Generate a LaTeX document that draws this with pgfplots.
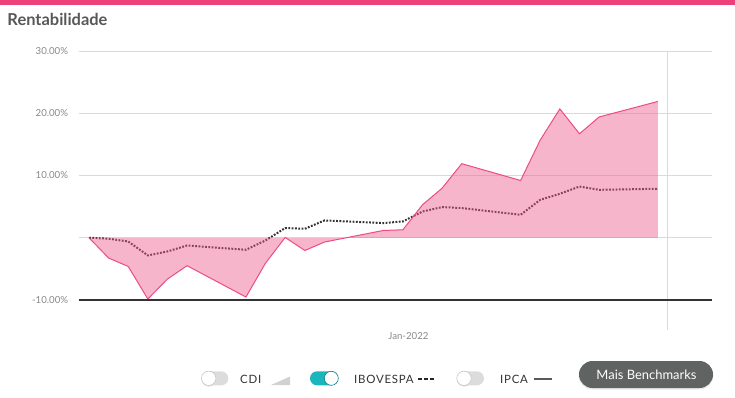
\documentclass[border=0pt]{standalone}
\usepackage{pgfplots}
\usepackage{pgfplotstable}
\pgfplotsset{compat=1.18}
\usepackage{fontspec}
\setmainfont{Lato}
\newfontfamily\legfont[LetterSpace=6.5]{Lato}
\definecolor{topbar}{HTML}{EC407A}
\definecolor{fundline}{HTML}{EE4B84}
\definecolor{fundfill}{HTML}{EE5A8E}
\definecolor{gridc}{HTML}{DADADA}
\definecolor{tickc}{HTML}{888888}
\definecolor{titlec}{HTML}{575757}
\definecolor{tealc}{HTML}{1AB5BD}
\definecolor{btn}{HTML}{5F6362}
\definecolor{ibovc}{HTML}{333333}
\definecolor{legc}{HTML}{333333}
\definecolor{offc}{HTML}{DCDCDC}

\pgfplotstableread{
x y
0 0
1 -3.26
2 -4.61
3 -9.84
4 -6.63
5 -4.49
8 -9.52
9 -4.06
10 0.05
11 -2.05
12 -0.69
15 1.17
16 1.28
17 5.3
18 7.97
19 11.9
22 9.2
23 15.7
24 20.7
25 16.7
26 19.4
29 21.9
}\fund

\pgfplotstableread{
x y
0 0
1 -0.15
2 -0.6
3 -2.84
4 -2.2
5 -1.24
8 -1.93
9 -0.43
10 1.56
11 1.44
12 2.78
15 2.36
16 2.62
17 4.22
18 4.93
19 4.77
22 3.69
23 6.1
24 7.06
25 8.23
26 7.7
29 7.87
}\ibov

\begin{document}
\begin{tikzpicture}
\useasboundingbox (0,0) rectangle (735bp,-398bp);
\fill[topbar] (0,0) rectangle (735bp,-4.5bp);
\node[anchor=base west, inner sep=0pt, font=\fontsize{16.5}{16.5}\selectfont\bfseries, text=titlec] at (7.3bp,-25bp) {Rentabilidade};
\begin{axis}[
  at={(78.5bp,-300bp)}, anchor=south west,
  scale only axis, width=633.2bp, height=249bp,
  xmin=-0.535, xmax=31.74, ymin=-10, ymax=30,
  axis line style={draw=none},
  major tick length=0pt,
  ytick={-10,0,10,20,30},
  yticklabels={-10.00\%,,10.00\%,20.00\%,30.00\%},
  ymajorgrids, grid style={gridc, line width=0.8bp},
  xtick={16.28}, xticklabels={Jan-2022},
  tick label style={font=\fontsize{9.7}{10}\selectfont, text=tickc, inner sep=0pt},
  y tick label style={anchor=east, xshift=-10.2bp},
  x tick label style={anchor=base, yshift=-39.5bp},
  clip=false,
]
\addplot[ibovc, line width=2bp, dash pattern=on 1.8bp off 1.5bp] table {\ibov};
\addplot[draw=none, fill=fundfill, fill opacity=0.45] table {\fund} \closedcycle;
\addplot[fundline, line width=1bp] table {\fund};
\draw[gridc, line width=1bp] (axis cs:29.48,30) -- (axis cs:29.48,-14.8);
\draw[color=ibovc, line width=2bp] (rel axis cs:0,0) -- (rel axis cs:1,0);
\end{axis}
% legend / controls
\fill[offc, rounded corners=7bp] (201.7bp,-371.3bp) rectangle (228.3bp,-385.3bp);
\fill[black!12] (209bp,-379bp) circle (7.6bp);
\draw[fill=white, draw=black!22, line width=0.6bp] (208.7bp,-378.3bp) circle (7.2bp);
\node[anchor=base west, inner sep=0pt, font=\legfont\fontsize{11.5}{12}\selectfont, text=legc] at (240bp,-383.5bp) {CDI};
\fill[black!18] (271bp,-385bp) -- (290bp,-385bp) -- (290bp,-376.5bp) -- cycle;

\fill[tealc, rounded corners=7bp] (310bp,-371.3bp) rectangle (338.3bp,-385.3bp);
\draw[fill=white, draw=tealc!70!black, line width=0.6bp] (331.3bp,-378.3bp) circle (7bp);
\node[anchor=base west, inner sep=0pt, font=\legfont\fontsize{11.5}{12}\selectfont, text=legc] at (354bp,-383.5bp) {IBOVESPA};
\draw[line width=2bp, dash pattern=on 3.5bp off 2.5bp, black!85] (418bp,-379bp) -- (435bp,-379bp);

\fill[offc, rounded corners=7bp] (457bp,-371.3bp) rectangle (484bp,-385.3bp);
\fill[black!12] (464.3bp,-379bp) circle (7.6bp);
\draw[fill=white, draw=black!22, line width=0.6bp] (464bp,-378.3bp) circle (7.2bp);
\node[anchor=base west, inner sep=0pt, font=\legfont\fontsize{11.5}{12}\selectfont, text=legc] at (500bp,-383.5bp) {IPCA};
\draw[line width=2bp, black!65] (534bp,-379bp) -- (552bp,-379bp);

\fill[black!8, rounded corners=14bp] (578.5bp,-361.5bp) rectangle (713.5bp,-389.5bp);
\fill[btn, rounded corners=13.5bp] (579bp,-361bp) rectangle (713bp,-388bp);
\node[anchor=base, inner sep=0pt, font=\fontsize{13}{13}\selectfont, text=white] at (646.5bp,-379.3bp) {Mais Benchmarks};
\end{tikzpicture}
\end{document}
